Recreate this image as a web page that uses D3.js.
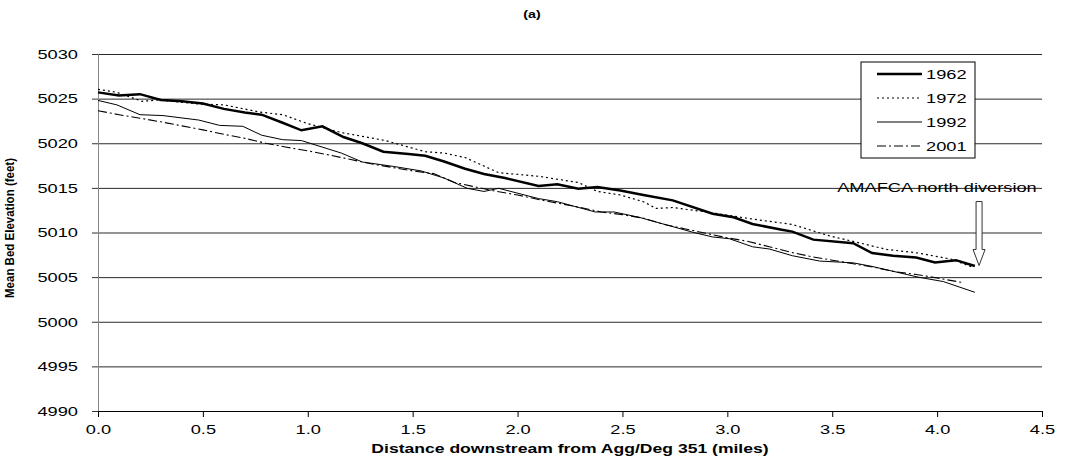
<!DOCTYPE html>
<html>
<head>
<meta charset="utf-8">
<script src="https://cdn.jsdelivr.net/npm/d3@7"></script>
<style>
  body { margin: 0; background: #fff; }
  text { font-family: "Liberation Sans", Arial, sans-serif; fill: #000; }
</style>
</head>
<body>
<div id="chart"></div>
<script>
// Set size
let w = 1065;
let h = 463;
let plotLeft = 98, plotRight = 1042, plotTop = 54, plotBottom = 411;
let stretch = 1.35; // the picture is wider than its fonts

// Data (miles, feet)
let x1962 = [0.0, 0.1, 0.2, 0.3, 0.4, 0.5, 0.6, 0.7, 0.78, 0.88, 0.97, 1.07, 1.17, 1.26, 1.36, 1.48, 1.56, 1.65, 1.75, 1.84, 1.94, 2.1, 2.19, 2.29, 2.38, 2.49, 2.6, 2.74, 2.93, 3.03, 3.12, 3.26, 3.31, 3.41, 3.6, 3.69, 3.79, 3.9, 3.99, 4.09, 4.18];
let y1962 = [5025.7, 5025.35, 5025.5, 5024.85, 5024.7, 5024.45, 5023.85, 5023.45, 5023.2, 5022.3, 5021.45, 5021.9, 5020.7, 5020.0, 5019.05, 5018.8, 5018.6, 5017.95, 5017.15, 5016.55, 5016.1, 5015.2, 5015.4, 5014.9, 5015.1, 5014.7, 5014.2, 5013.6, 5012.1, 5011.7, 5010.95, 5010.3, 5010.1, 5009.2, 5008.8, 5007.7, 5007.4, 5007.2, 5006.65, 5006.9, 5006.25];

let x1972 = [0.0, 0.09, 0.21, 0.29, 0.48, 0.6, 0.77, 0.88, 1.0, 1.16, 1.37, 1.56, 1.65, 1.75, 1.91, 2.1, 2.29, 2.38, 2.49, 2.6, 2.66, 2.74, 2.93, 3.12, 3.31, 3.49, 3.6, 3.76, 3.91, 4.07, 4.17];
let y1972 = [5026.05, 5025.7, 5024.7, 5024.85, 5024.4, 5024.3, 5023.5, 5023.2, 5022.2, 5021.2, 5020.3, 5019.05, 5018.9, 5018.4, 5016.7, 5016.3, 5015.6, 5014.6, 5014.2, 5013.45, 5012.7, 5012.8, 5012.2, 5011.5, 5010.9, 5009.6, 5009.0, 5008.1, 5007.7, 5007.0, 5006.1];

let x1992 = [0.0, 0.09, 0.2, 0.31, 0.48, 0.58, 0.69, 0.78, 0.88, 0.97, 1.16, 1.26, 1.41, 1.54, 1.65, 1.76, 1.84, 1.91, 2.1, 2.19, 2.37, 2.46, 2.58, 2.84, 2.93, 3.01, 3.12, 3.2, 3.31, 3.44, 3.6, 3.69, 3.91, 4.03, 4.18];
let y1992 = [5024.8, 5024.3, 5023.2, 5023.1, 5022.6, 5022.0, 5021.9, 5020.9, 5020.4, 5020.3, 5018.9, 5017.9, 5017.4, 5016.9, 5016.1, 5014.95, 5014.6, 5014.95, 5013.8, 5013.45, 5012.3, 5012.3, 5011.7, 5010.0, 5009.5, 5009.3, 5008.4, 5008.15, 5007.4, 5006.8, 5006.6, 5006.2, 5005.0, 5004.5, 5003.3];

let x2001 = [0.0, 0.1, 0.2, 0.3, 0.4, 0.5, 0.6, 0.7, 0.8, 0.9, 1.0, 1.1, 1.2, 1.3, 1.4, 1.5, 1.6, 1.7, 1.8, 1.9, 2.0, 2.1, 2.2, 2.3, 2.4, 2.5, 2.6, 2.7, 2.8, 2.9, 3.0, 3.1, 3.2, 3.3, 3.4, 3.5, 3.6, 3.7, 3.8, 3.9, 4.0, 4.12];
let y2001 = [5023.65, 5023.2, 5022.8, 5022.4, 5021.95, 5021.5, 5021.0, 5020.55, 5020.0, 5019.55, 5019.15, 5018.7, 5018.2, 5017.7, 5017.3, 5016.9, 5016.6, 5015.6, 5015.1, 5014.6, 5014.2, 5013.7, 5013.25, 5012.8, 5012.3, 5012.0, 5011.6, 5010.9, 5010.4, 5009.9, 5009.4, 5009.0, 5008.4, 5007.8, 5007.3, 5006.9, 5006.5, 5006.1, 5005.6, 5005.3, 5004.9, 5004.4];

let years = ["1962", "1972", "1992", "2001"];
let xTicks = [0, 0.5, 1, 1.5, 2, 2.5, 3, 3.5, 4, 4.5];
let yTicks = [4990, 4995, 5000, 5005, 5010, 5015, 5020, 5025, 5030];

let series = [
  { name: "1962", xs: x1962, ys: y1962, width: 2.5, dash: null },
  { name: "1972", xs: x1972, ys: y1972, width: 1.2, dash: "2,3" },
  { name: "1992", xs: x1992, ys: y1992, width: 1, dash: null },
  { name: "2001", xs: x2001, ys: y2001, width: 1.1, dash: "9,3,2,3" },
];

let xScale = d3.scaleLinear().domain([0, 4.5]).range([plotLeft, plotRight]);
let yScale = d3.scaleLinear().domain([4990, 5030]).range([plotBottom, plotTop]);

let svg = d3.select("#chart").append("svg").attr("width", w).attr("height", h);

// Gridlines
svg.append("g")
  .attr("transform", "translate(" + plotLeft + ",0)")
  .call(d3.axisLeft(yScale).tickValues(yTicks).tickSize(-(plotRight - plotLeft)).tickFormat(""))
  .call((g) => g.select(".domain").remove())
  .selectAll("line").attr("stroke", "#2a2a2a");

// Y axis
let yAxis = svg.append("g")
  .attr("transform", "translate(" + plotLeft + ",0)")
  .call(d3.axisLeft(yScale).tickValues(yTicks).tickSize(6).tickPadding(14).tickFormat(d3.format("d")));
yAxis.select(".domain").attr("stroke", "#888");
yAxis.selectAll("line").attr("stroke", "#333");
yAxis.selectAll("text").attr("font-size", "13.5px").attr("class", "wide");

// X axis
let xAxis = svg.append("g")
  .attr("transform", "translate(0," + plotBottom + ")")
  .call(d3.axisBottom(xScale).tickValues(xTicks).tickSize(6).tickPadding(7).tickFormat(d3.format(".1f")));
xAxis.select(".domain").attr("stroke", "#000");
xAxis.selectAll("line").attr("stroke", "#000");
xAxis.selectAll("text").attr("font-size", "13.5px").attr("class", "wide");

// Lines
let line = d3.line().x((d) => xScale(d[0])).y((d) => yScale(d[1]));
series.forEach((s) => {
  svg.append("path")
    .datum(s.xs.map((x, i) => [x, s.ys[i]]))
    .attr("d", line)
    .attr("fill", "none")
    .attr("stroke", "#000")
    .attr("stroke-width", s.width)
    .attr("stroke-dasharray", s.dash);
});

// Legend
let lg = svg.append("g");
lg.append("rect")
  .attr("x", 861).attr("y", 62).attr("width", 114).attr("height", 96)
  .attr("fill", "#fff").attr("stroke", "#000").attr("stroke-width", 1);
series.forEach((s, i) => {
  let yy = 74 + i * 24;
  lg.append("line")
    .attr("x1", 877).attr("x2", 922).attr("y1", yy).attr("y2", yy)
    .attr("stroke", "#000").attr("stroke-width", s.width)
    .attr("stroke-dasharray", s.dash);
  lg.append("text")
    .attr("x", 926).attr("y", yy + 5)
    .attr("font-size", "13.5px")
    .attr("class", "wide")
    .text(years[i]);
});

// Annotation arrow
let ax = xScale(4.2), ay = yScale(5006.3);
svg.append("path")
  .attr("d", `M${ax},${ay} L${ax - 6},${ay - 16} L${ax - 3},${ay - 16} L${ax - 3},${ay - 64} L${ax + 3},${ay - 64} L${ax + 3},${ay - 16} L${ax + 6},${ay - 16} Z`)
  .attr("fill", "#fff").attr("stroke", "#333").attr("stroke-width", 1);
svg.append("text")
  .attr("x", 937).attr("y", 192)
  .attr("text-anchor", "middle")
  .attr("font-size", "13.5px")
  .attr("class", "wide")
  .text("AMAFCA north diversion");

// Titles
svg.append("text")
  .attr("x", 532).attr("y", 18)
  .attr("text-anchor", "middle")
  .attr("font-size", "10.5px").attr("font-weight", "bold")
  .attr("class", "wide")
  .text("(a)");
svg.append("text")
  .attr("x", 570).attr("y", 453)
  .attr("text-anchor", "middle")
  .attr("font-size", "13px").attr("font-weight", "bold")
  .attr("class", "wide")
  .text("Distance downstream from Agg/Deg 351 (miles)");
svg.append("text")
  .attr("transform", "translate(14,228) rotate(-90)")
  .attr("text-anchor", "middle")
  .attr("font-size", "12px").attr("font-weight", "bold")
  .attr("textLength", 140).attr("lengthAdjust", "spacingAndGlyphs")
  .text("Mean Bed Elevation (feet)");

// widen horizontal texts to match the stretched picture
svg.selectAll("text.wide").each(function () {
  let len = this.getComputedTextLength();
  d3.select(this).attr("textLength", len * stretch).attr("lengthAdjust", "spacingAndGlyphs");
});
</script>
</body>
</html>
